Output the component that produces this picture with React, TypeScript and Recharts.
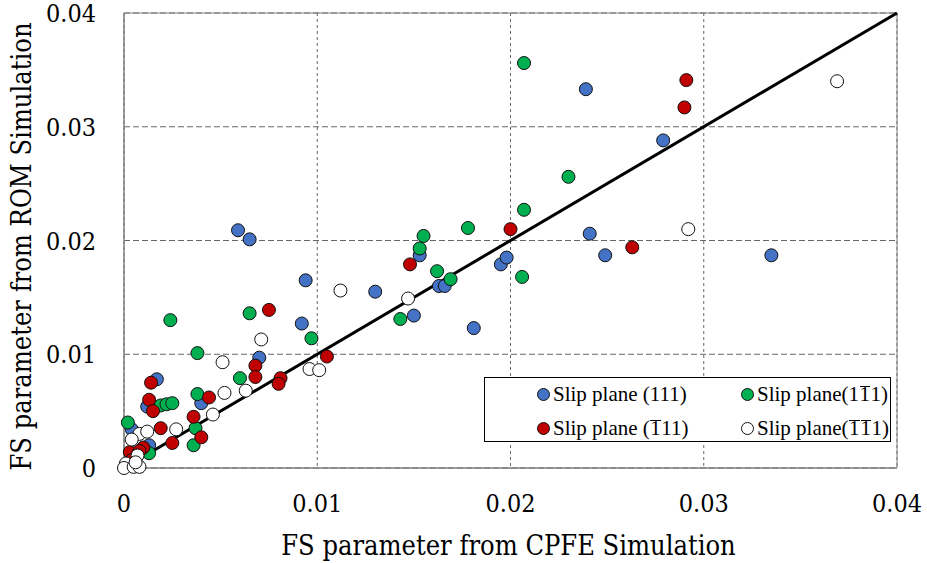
import React from "react";
import {
  ScatterChart, Scatter, XAxis, YAxis, CartesianGrid,
  ReferenceLine, ReferenceArea,
} from "recharts";

// SVG text only resolves the DejaVu family here; HTML legend uses Liberation Serif
const SVG_FONT = "DejaVu Serif Condensed";
const HTML_FONT = "'Liberation Serif', 'Times New Roman', serif";
const TICKS = [0, 0.01, 0.02, 0.03, 0.04];

// Slip plane (111)
const PLANE_111 = [
  { x: 0.0239, y: 0.0333 }, { x: 0.0279, y: 0.0288 }, { x: 0.0241, y: 0.0206 },
  { x: 0.0249, y: 0.0187 }, { x: 0.0335, y: 0.0187 }, { x: 0.0059, y: 0.0209 },
  { x: 0.0065, y: 0.0201 }, { x: 0.0094, y: 0.0165 }, { x: 0.0092, y: 0.0127 },
  { x: 0.013, y: 0.0155 }, { x: 0.0153, y: 0.0187 }, { x: 0.015, y: 0.0134 },
  { x: 0.0163, y: 0.016 }, { x: 0.0166, y: 0.016 }, { x: 0.0181, y: 0.0123 },
  { x: 0.0195, y: 0.0179 }, { x: 0.0198, y: 0.0185 }, { x: 0.007, y: 0.0097 },
  { x: 0.004, y: 0.0057 }, { x: 0.0017, y: 0.0078 }, { x: 0.0012, y: 0.0054 },
  { x: 0.0004, y: 0.0034 }, { x: 0.0013, y: 0.002 },
];

// Slip plane (1 -1 1)
const PLANE_1B1 = [
  { x: 0.0207, y: 0.0356 }, { x: 0.023, y: 0.0256 }, { x: 0.0207, y: 0.0227 },
  { x: 0.0178, y: 0.0211 }, { x: 0.0155, y: 0.0204 }, { x: 0.0153, y: 0.0193 },
  { x: 0.0162, y: 0.0173 }, { x: 0.0169, y: 0.0166 }, { x: 0.0206, y: 0.0168 },
  { x: 0.0143, y: 0.0131 }, { x: 0.0097, y: 0.0114 }, { x: 0.0065, y: 0.0136 },
  { x: 0.0024, y: 0.013 }, { x: 0.0038, y: 0.0101 }, { x: 0.006, y: 0.0079 },
  { x: 0.0038, y: 0.0065 }, { x: 0.0019, y: 0.0055 }, { x: 0.0022, y: 0.0056 },
  { x: 0.0025, y: 0.0057 }, { x: 0.0037, y: 0.0035 }, { x: 0.0036, y: 0.002 },
  { x: 0.0002, y: 0.004 }, { x: 0.0013, y: 0.0013 },
];

// Slip plane (-1 1 1)
const PLANE_B11 = [
  { x: 0.0291, y: 0.0341 }, { x: 0.029, y: 0.0317 }, { x: 0.0263, y: 0.0194 },
  { x: 0.02, y: 0.021 }, { x: 0.0148, y: 0.0179 }, { x: 0.0105, y: 0.0098 },
  { x: 0.0075, y: 0.0139 }, { x: 0.0068, y: 0.009 }, { x: 0.0068, y: 0.008 },
  { x: 0.0081, y: 0.0079 }, { x: 0.008, y: 0.0074 }, { x: 0.0014, y: 0.0075 },
  { x: 0.0044, y: 0.0062 }, { x: 0.0013, y: 0.006 }, { x: 0.0015, y: 0.005 },
  { x: 0.0036, y: 0.0045 }, { x: 0.0019, y: 0.0035 }, { x: 0.004, y: 0.0027 },
  { x: 0.0025, y: 0.0022 }, { x: 0.001, y: 0.0018 }, { x: 0.0003, y: 0.0014 },
  { x: 0.0008, y: 0.0015 }, { x: 0.0004, y: 0.0007 },
];

// Slip plane (-1 -1 1)
const PLANE_BB1 = [
  { x: 0.0369, y: 0.034 }, { x: 0.0292, y: 0.021 }, { x: 0.0112, y: 0.0156 },
  { x: 0.0147, y: 0.0149 }, { x: 0.0071, y: 0.0113 }, { x: 0.0051, y: 0.0093 },
  { x: 0.0052, y: 0.0066 }, { x: 0.0063, y: 0.0068 }, { x: 0.0046, y: 0.0047 },
  { x: 0.0096, y: 0.0087 }, { x: 0.0101, y: 0.0086 }, { x: 0.0027, y: 0.0034 },
  { x: 0.0008, y: 0.003 }, { x: 0.0012, y: 0.0032 }, { x: 0.0004, y: 0.0025 },
  { x: 0.0007, y: 0.0011 }, { x: 0.0001, y: 0.0004 }, { x: 0, y: 0 },
  { x: 0.0005, y: 0.0001 }, { x: 0.0008, y: 0.0001 }, { x: 0.0006, y: 0.0005 },
];

const SERIES = [
  { name: "111", data: PLANE_111, color: "#4472C4" },
  { name: "1-11", data: PLANE_1B1, color: "#00B050" },
  { name: "-111", data: PLANE_B11, color: "#C00000" },
  { name: "-1-11", data: PLANE_BB1, color: "#FFFFFF" },
];

const dot = (color: string) => (props: any) => (
  <circle cx={props.cx} cy={props.cy} r={6.5} fill={color} stroke="#111" strokeWidth={1} />
);

// digit with an overbar, one bar per digit
const Bar1 = () => (
  <span style={{ display: "inline-block", borderTop: "1.5px solid #000", lineHeight: "0.72em", margin: "0 0.5px" }}>1</span>
);

const LEGEND = [
  { color: "#4472C4", label: <>Slip plane (111)</>, left: 59, top: 16 },
  { color: "#00B050", label: <>Slip plane(1<Bar1 />1)</>, left: 263, top: 16 },
  { color: "#C00000", label: <>Slip plane (<Bar1 />11)</>, left: 59, top: 50 },
  { color: "#FFFFFF", label: <>Slip plane(<Bar1 /><Bar1 />1)</>, left: 263, top: 50 },
];

const fmt = (v: number) => (v === 0 ? "0" : String(v));

const XTick = (p: any) => (
  <text x={p.x} y={p.y} dy="0.71em" textAnchor="middle" fontSize={25} fontFamily={SVG_FONT} fill="#000">
    {fmt(p.payload.value)}
  </text>
);

const YTick = (p: any) => (
  <text x={p.x} y={p.y} dy="0.36em" textAnchor="end" fontSize={25} fontFamily={SVG_FONT} fill="#000">
    {fmt(p.payload.value)}
  </text>
);

const XTitle = (p: any) => {
  const vb = p.viewBox;
  return (
    <text x={vb.x + vb.width / 2 - 2} y={vb.y + vb.height - 8} textAnchor="middle" fontSize={27} fontFamily={SVG_FONT} fill="#000">
      FS parameter from CPFE Simulation
    </text>
  );
};

const YTitle = (p: any) => {
  const vb = p.viewBox;
  const cx = vb.x + 31;
  const cy = vb.y + vb.height / 2 + 6;
  return (
    <text x={cx} y={cy} transform={`rotate(-90 ${cx} ${cy})`} textAnchor="middle" fontSize={27} fontFamily={SVG_FONT} fill="#000">
      FS parameter from ROM Simulation
    </text>
  );
};

export default function App() {
  return (
    <div style={{ position: "absolute", left: 0, top: 0, width: 927, height: 563, background: "#fff", fontFamily: HTML_FONT }}>
      <ScatterChart width={927} height={563} margin={{ top: 13, right: 30, bottom: 0, left: 0 }}>
        <CartesianGrid horizontal vertical={false} stroke="#666" strokeDasharray="6 3" />
        <CartesianGrid horizontal={false} vertical stroke="#666" strokeDasharray="3 3" />
        <XAxis
          type="number" dataKey="x" domain={[0, 0.04]} ticks={TICKS}
          height={95} tickSize={0} tickMargin={26} tickLine={false}
          axisLine={{ stroke: "#7f7f7f" }} tick={<XTick />}
          label={<XTitle />}
        />
        <YAxis
          type="number" dataKey="y" domain={[0, 0.04]} ticks={TICKS}
          width={124} tickSize={0} tickMargin={28} tickLine={false}
          axisLine={{ stroke: "#7f7f7f" }} tick={<YTick />}
          label={<YTitle />}
        />
        <ReferenceArea x1={0} x2={0.04} y1={0} y2={0.04} fill="none" fillOpacity={0} stroke="#7f7f7f" strokeWidth={1} />
        <ReferenceLine segment={[{ x: 0, y: 0 }, { x: 0.04, y: 0.04 }]} stroke="#000" strokeWidth={3} />
        {SERIES.map((s) => (
          <Scatter key={s.name} name={s.name} data={s.data} shape={dot(s.color)} isAnimationActive={false} />
        ))}
      </ScatterChart>
      <div
        style={{
          position: "absolute", left: 484, top: 377, width: 407, height: 65,
          border: "1px solid #000", boxSizing: "border-box", background: "#fff",
          fontSize: 21, color: "#000",
        }}
      >
        {LEGEND.map((l, i) => (
          <div key={i} style={{ position: "absolute", left: l.left - 7, top: l.top - 13, height: 26, display: "flex", alignItems: "center", whiteSpace: "nowrap" }}>
            <span style={{ display: "inline-block", width: 11, height: 11, borderRadius: "50%", background: l.color, border: "1px solid #111", marginRight: 3 }} />
            <span>{l.label}</span>
          </div>
        ))}
      </div>
    </div>
  );
}
